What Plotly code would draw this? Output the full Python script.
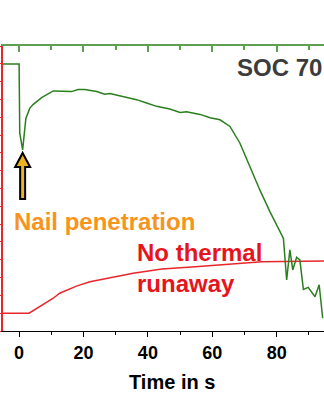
import plotly.graph_objects as go

# Cell voltage (right axis) during nail penetration, time in s
time_v = [-5, 0, 0.2, 1.1, 2.1, 3.3, 4.4, 7.0, 10.6, 16.3, 18.3, 20.4, 24.1, 26.6,
          28.2, 32.3, 36.5, 39.6, 42.7, 46.8, 50.0, 52.0, 56.2, 59.3, 62.4, 65.5,
          68.6, 71.7, 74.8, 77.9, 82.1, 83.1, 84.1, 85.0, 86.2, 87.2, 88.3, 89.8,
          91.9, 93.2, 94.3]
voltage = [3.98, 3.98, 2.95, 2.70, 3.17, 3.32, 3.38, 3.48, 3.58, 3.57, 3.60, 3.60,
           3.57, 3.53, 3.54, 3.49, 3.45, 3.40, 3.35, 3.31, 3.26, 3.27, 3.23, 3.18,
           3.15, 3.05, 2.80, 2.45, 2.10, 1.78, 1.38, 0.76, 1.21, 0.91, 1.10, 1.06,
           0.62, 0.65, 0.51, 0.69, 0.19]

# Cell surface temperature (left axis)
time_t = [-5, 3.1, 10.6, 12.6, 17.8, 22.0, 35.4, 44.4, 54.7, 65.1, 75.4, 94.7]
temperature = [25.0, 25.0, 29.2, 30.6, 32.6, 33.8, 36.2, 37.4, 38.05, 38.7, 39.45, 39.65]

x_ticks = [0, 20, 40, 60, 80]

FONT = "Liberation Sans, Arial, sans-serif"
RED = "#E8262B"
GREEN = "#2A7F1E"
AXIS_GREEN = "#5E9F52"
ORANGE = "#F7941D"

fig = go.Figure()

fig.add_trace(go.Scatter(x=time_t, y=temperature, mode="lines",
                         line=dict(color=RED, width=1.5),
                         xaxis="x", yaxis="y", showlegend=False))
fig.add_trace(go.Scatter(x=time_v, y=voltage, mode="lines",
                         line=dict(color=GREEN, width=1.5),
                         xaxis="x2", yaxis="y2", showlegend=False))

# arrow pointing at the voltage dip right after the nail enters (first 10 s)
early = [i for i, t in enumerate(time_v) if t < 10]
i_dip = min(early, key=lambda i: voltage[i])
fig.add_shape(type="path", xref="x2", yref="y2",
              xsizemode="pixel", ysizemode="pixel",
              xanchor=time_v[i_dip], yanchor=voltage[i_dip],
              path="M 0 -3 L 7.5 -17 L 2.5 -17 L 2.5 -49 L -2.5 -49 L -2.5 -17 L -7.5 -17 Z",
              fillcolor="#EDB21F", line=dict(color="black", width=2))

x_range = [-5, 94.7]

fig.update_layout(
    width=324, height=400,
    margin=dict(l=3, r=0, t=46, b=69),
    paper_bgcolor="white", plot_bgcolor="white",
    font=dict(family=FONT),
    xaxis=dict(range=x_range, tickvals=x_ticks, showgrid=False, zeroline=False,
               showline=True, linecolor="black", linewidth=1.2,
               ticks="outside", ticklen=5, tickcolor="black", tickwidth=1.2,
               minor=dict(tickvals=[10, 30, 50, 70, 90], ticks="outside", ticklen=3,
                          tickcolor="black", tickwidth=1.2),
               tickfont=dict(family=FONT, size=18, color="black", weight="bold"),
               anchor="y"),
    xaxis2=dict(range=x_range, overlaying="x", side="top", anchor="y2",
                tickvals=x_ticks, showticklabels=False, showgrid=False, zeroline=False,
                showline=True, linecolor=AXIS_GREEN, linewidth=2,
                ticks="inside", ticklen=6, tickcolor=AXIS_GREEN, tickwidth=1.5,
                minor=dict(tickvals=[10, 30, 50, 70, 90], ticks="inside", ticklen=4,
                           tickcolor=AXIS_GREEN, tickwidth=1.5)),
    yaxis=dict(range=[20, 100], dtick=5, showticklabels=False, showgrid=False,
               zeroline=False, showline=True, linecolor=RED, linewidth=1.5,
               ticks="outside", ticklen=4, tickcolor=RED, tickwidth=1.2,
               anchor="x"),
    yaxis2=dict(range=[0, 4.25], overlaying="y", side="right", anchor="x2",
                showticklabels=False, showgrid=False, zeroline=False,
                showline=False, ticks=""),
    annotations=[
        dict(text="SOC 70", xref="paper", yref="paper", x=1.0, y=0.925,
             xanchor="right", yanchor="middle", showarrow=False,
             font=dict(family=FONT, size=24, color="#3C3C3C", weight="bold")),
        dict(text="Nail penetration", xref="paper", yref="paper", x=0.027, y=0.384,
             xanchor="left", yanchor="middle", showarrow=False,
             font=dict(family=FONT, size=24, color=ORANGE, weight="bold")),
        dict(text="No thermal<br>runaway", xref="paper", yref="paper", x=0.411, y=0.2225,
             xanchor="left", yanchor="middle", align="left", showarrow=False,
             font=dict(family=FONT, size=24, color="#E8141C", weight="bold")),
        dict(text="Time in s", xref="paper", yref="paper", x=0.528, y=-0.179,
             xanchor="center", yanchor="middle", showarrow=False,
             font=dict(family=FONT, size=20, color="black", weight="bold")),
    ],
)

fig.write_html("out.html")
